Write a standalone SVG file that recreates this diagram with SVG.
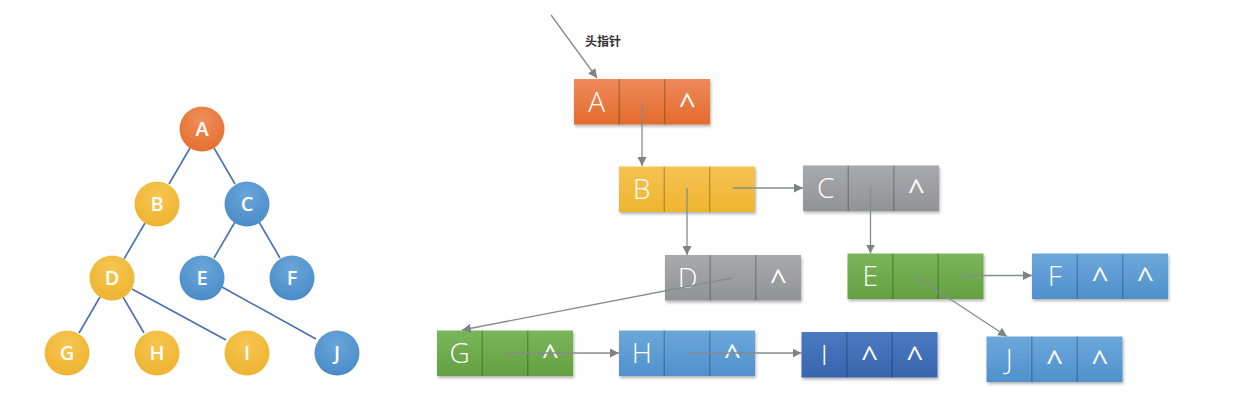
<svg xmlns="http://www.w3.org/2000/svg" width="1243" height="412" viewBox="0 0 1243 412">
<defs>
<style>
.tl{stroke:#4a6fb0;stroke-width:1.6;fill:none}
.cn{stroke:#888a8d;stroke-width:1.3;fill:none}
.tt{font-family:"Open Sans","Liberation Sans",sans-serif;font-weight:600;font-size:20px;fill:#fff;text-anchor:middle}
.lt{font-family:"Open Sans","Liberation Sans",sans-serif;font-weight:300;font-size:28px;fill:#fff;text-anchor:middle}
.ct{font-family:"Open Sans","Liberation Sans",sans-serif;font-weight:400;font-size:30px;fill:#fff;text-anchor:middle}
.dv{stroke:rgba(0,0,0,0.22);stroke-width:1.5}
.bx{filter:url(#sh)}
</style>
<filter id="sh" x="-10%" y="-20%" width="125%" height="150%">
<feDropShadow dx="1" dy="2" stdDeviation="1.5" flood-color="#000" flood-opacity="0.3"/>
</filter>
<linearGradient id="gOr" x1="0" y1="0" x2="0" y2="1"><stop offset="0" stop-color="#ee8a5a"/><stop offset="1" stop-color="#e36b2d"/></linearGradient>
<linearGradient id="gYe" x1="0" y1="0" x2="0" y2="1"><stop offset="0" stop-color="#f5c352"/><stop offset="1" stop-color="#efb52f"/></linearGradient>
<linearGradient id="gGr" x1="0" y1="0" x2="0" y2="1"><stop offset="0" stop-color="#a8a9ac"/><stop offset="1" stop-color="#929397"/></linearGradient>
<linearGradient id="gGn" x1="0" y1="0" x2="0" y2="1"><stop offset="0" stop-color="#79b55b"/><stop offset="1" stop-color="#64a140"/></linearGradient>
<linearGradient id="gLb" x1="0" y1="0" x2="0" y2="1"><stop offset="0" stop-color="#6ca7da"/><stop offset="1" stop-color="#4f91cd"/></linearGradient>
<linearGradient id="gDb" x1="0" y1="0" x2="0" y2="1"><stop offset="0" stop-color="#4a7ac2"/><stop offset="1" stop-color="#3764ad"/></linearGradient>
<radialGradient id="cOr" cx="0.5" cy="0.3" r="0.7"><stop offset="0" stop-color="#f08f5c"/><stop offset="1" stop-color="#e46f2e"/></radialGradient>
<radialGradient id="cYe" cx="0.5" cy="0.3" r="0.7"><stop offset="0" stop-color="#f6c651"/><stop offset="1" stop-color="#eeb330"/></radialGradient>
<radialGradient id="cBl" cx="0.5" cy="0.3" r="0.7"><stop offset="0" stop-color="#6aa6da"/><stop offset="1" stop-color="#4a8bc8"/></radialGradient>
<marker id="ah" viewBox="0 0 10 10" refX="10" refY="5" markerWidth="9" markerHeight="9" markerUnits="userSpaceOnUse" orient="auto">
<path d="M0,0 L10,5 L0,10 z" fill="#7f8184"/>
</marker>
</defs>
<rect width="1243" height="412" fill="#fff"/>

<!-- tree edges -->
<g id="tree-edges">
<line class="tl" x1="190" y1="148" x2="169" y2="184"/>
<line class="tl" x1="214" y1="148" x2="235" y2="184"/>
<line class="tl" x1="145" y1="223" x2="124" y2="259"/>
<line class="tl" x1="235" y1="222" x2="214" y2="258"/>
<line class="tl" x1="259" y1="222" x2="280" y2="258"/>
<line class="tl" x1="100" y1="297" x2="79" y2="333"/>
<line class="tl" x1="123" y1="297" x2="144" y2="333"/>
<line class="tl" x1="132" y1="289" x2="226" y2="340"/>
<line class="tl" x1="222" y1="287" x2="316" y2="339"/>
</g>

<g id="tree-A"><circle cx="202" cy="129" r="22.5" fill="url(#cOr)"/><text class="tt" x="202" y="136">A</text></g>
<g id="tree-B"><circle cx="157" cy="204" r="22.5" fill="url(#cYe)"/><text class="tt" x="157" y="211">B</text></g>
<g id="tree-C"><circle cx="247" cy="204" r="22.5" fill="url(#cBl)"/><text class="tt" x="247" y="211">C</text></g>
<g id="tree-D"><circle cx="112" cy="278" r="22.5" fill="url(#cYe)"/><text class="tt" x="112" y="285">D</text></g>
<g id="tree-E"><circle cx="202" cy="278" r="22.5" fill="url(#cBl)"/><text class="tt" x="202" y="285">E</text></g>
<g id="tree-F"><circle cx="292" cy="278" r="22.5" fill="url(#cBl)"/><text class="tt" x="292" y="285">F</text></g>
<g id="tree-G"><circle cx="67" cy="353" r="22.5" fill="url(#cYe)"/><text class="tt" x="67" y="360">G</text></g>
<g id="tree-H"><circle cx="157" cy="353" r="22.5" fill="url(#cYe)"/><text class="tt" x="157" y="360">H</text></g>
<g id="tree-I"><circle cx="247" cy="353" r="22.5" fill="url(#cYe)"/><text class="tt" x="247" y="360">I</text></g>
<g id="tree-J"><circle cx="337" cy="353" r="22.5" fill="url(#cBl)"/><text class="tt" x="337" y="360">J</text></g>

<!-- list nodes -->
<g id="list-A" transform="translate(574,79)">
<rect class="bx" width="136" height="45.5" fill="url(#gOr)"/>
<line class="dv" x1="45.3" y1="0" x2="45.3" y2="45.5"/><line class="dv" x1="90.7" y1="0" x2="90.7" y2="45.5"/>
<text class="lt" x="22.7" y="32.5">A</text><text class="ct" x="113.3" y="35.5">^</text>
</g>
<g id="list-B" transform="translate(619,166.5)">
<rect class="bx" width="136" height="45.5" fill="url(#gYe)"/>
<line class="dv" x1="45.3" y1="0" x2="45.3" y2="45.5"/><line class="dv" x1="90.7" y1="0" x2="90.7" y2="45.5"/>
<text class="lt" x="22.7" y="32.5">B</text>
</g>
<g id="list-C" transform="translate(803,165.5)">
<rect class="bx" width="136" height="45.5" fill="url(#gGr)"/>
<line class="dv" x1="45.3" y1="0" x2="45.3" y2="45.5"/><line class="dv" x1="90.7" y1="0" x2="90.7" y2="45.5"/>
<text class="lt" x="22.7" y="32.5">C</text><text class="ct" x="113.3" y="35.5">^</text>
</g>
<g id="list-D" transform="translate(665,255)">
<rect class="bx" width="136" height="45.5" fill="url(#gGr)"/>
<line class="dv" x1="45.3" y1="0" x2="45.3" y2="45.5"/><line class="dv" x1="90.7" y1="0" x2="90.7" y2="45.5"/>
<text class="lt" x="22.7" y="32.5">D</text><text class="ct" x="113.3" y="35.5">^</text>
</g>
<g id="list-E" transform="translate(847.5,253.5)">
<rect class="bx" width="136" height="45.5" fill="url(#gGn)"/>
<line class="dv" x1="45.3" y1="0" x2="45.3" y2="45.5"/><line class="dv" x1="90.7" y1="0" x2="90.7" y2="45.5"/>
<text class="lt" x="22.7" y="32.5">E</text>
</g>
<g id="list-F" transform="translate(1032,253.5)">
<rect class="bx" width="136" height="45.5" fill="url(#gLb)"/>
<line class="dv" x1="45.3" y1="0" x2="45.3" y2="45.5"/><line class="dv" x1="90.7" y1="0" x2="90.7" y2="45.5"/>
<text class="lt" x="22.7" y="32.5">F</text><text class="ct" x="68" y="35.5">^</text><text class="ct" x="113.3" y="35.5">^</text>
</g>
<g id="list-G" transform="translate(437,330.5)">
<rect class="bx" width="136" height="45.5" fill="url(#gGn)"/>
<line class="dv" x1="45.3" y1="0" x2="45.3" y2="45.5"/><line class="dv" x1="90.7" y1="0" x2="90.7" y2="45.5"/>
<text class="lt" x="22.7" y="32.5">G</text><text class="ct" x="113.3" y="35.5">^</text>
</g>
<g id="list-H" transform="translate(619,330.5)">
<rect class="bx" width="136" height="45.5" fill="url(#gLb)"/>
<line class="dv" x1="45.3" y1="0" x2="45.3" y2="45.5"/><line class="dv" x1="90.7" y1="0" x2="90.7" y2="45.5"/>
<text class="lt" x="22.7" y="32.5">H</text><text class="ct" x="113.3" y="35.5">^</text>
</g>
<g id="list-I" transform="translate(801.5,332)">
<rect class="bx" width="136" height="45.5" fill="url(#gDb)"/>
<line class="dv" x1="45.3" y1="0" x2="45.3" y2="45.5"/><line class="dv" x1="90.7" y1="0" x2="90.7" y2="45.5"/>
<text class="lt" x="22.7" y="32.5">I</text><text class="ct" x="68" y="35.5">^</text><text class="ct" x="113.3" y="35.5">^</text>
</g>
<g id="list-J" transform="translate(986.5,336.5)">
<rect class="bx" width="136" height="45.5" fill="url(#gLb)"/>
<line class="dv" x1="45.3" y1="0" x2="45.3" y2="45.5"/><line class="dv" x1="90.7" y1="0" x2="90.7" y2="45.5"/>
<text class="lt" x="22.7" y="32.5">J</text><text class="ct" x="68" y="35.5">^</text><text class="ct" x="113.3" y="35.5">^</text>
</g>

<!-- connectors -->
<g id="connectors">
<line class="cn" x1="551" y1="15" x2="597" y2="78" marker-end="url(#ah)"/>
<line class="cn" x1="642" y1="103" x2="642" y2="166" marker-end="url(#ah)"/>
<line class="cn" x1="733" y1="188" x2="803" y2="188" marker-end="url(#ah)"/>
<line class="cn" x1="687" y1="188" x2="687" y2="255" marker-end="url(#ah)"/>
<line class="cn" x1="870.5" y1="188" x2="870.5" y2="253.5" marker-end="url(#ah)"/>
<line class="cn" x1="732" y1="278" x2="462" y2="330" marker-end="url(#ah)"/>
<line class="cn" x1="506" y1="353" x2="619" y2="353" marker-end="url(#ah)"/>
<line class="cn" x1="688" y1="353" x2="801.5" y2="353" marker-end="url(#ah)"/>
<line class="cn" x1="961.5" y1="275.5" x2="1032" y2="275.5" marker-end="url(#ah)"/>
<line class="cn" x1="915" y1="276" x2="1007" y2="336.5" marker-end="url(#ah)"/>
</g>

<text x="585" y="46" font-family="'Noto Sans CJK SC','Noto Sans',sans-serif" font-size="12" font-weight="bold" fill="#333">头指针</text>
</svg>
